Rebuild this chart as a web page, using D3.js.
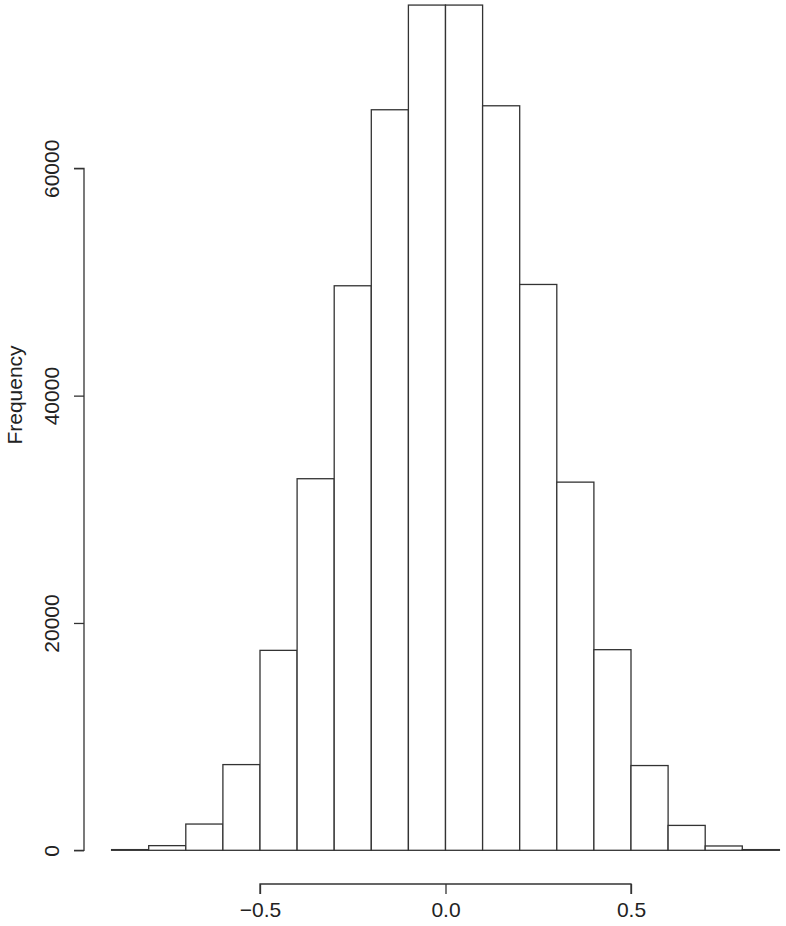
<!DOCTYPE html>
<html>
<head>
<meta charset="utf-8">
<script src="https://cdn.jsdelivr.net/npm/d3@7"></script>
<style>
  body { margin: 0; background: #fff; }
  svg text { font-family: "Liberation Sans", Arial, sans-serif; fill: #222; }
</style>
</head>
<body>
<div id="chart"></div>
<script>
// histogram breaks (bin edges) and counts
const breaks = [-0.9, -0.8, -0.7, -0.6, -0.5, -0.4, -0.3, -0.2, -0.1, 0.0,
                0.1, 0.2, 0.3, 0.4, 0.5, 0.6, 0.7, 0.8, 0.9];
const counts = [60, 410, 2310, 7540, 17590, 32690, 49665, 65150, 74360,
                74360, 65500, 49780, 32390, 17650, 7456, 2190, 380, 60];
const xTicks = [-0.5, 0.0, 0.5];
const yTicks = [0, 20000, 40000, 60000];
const yLabel = "Frequency";

let width = 786,
    height = 926;

let x = d3.scaleLinear().domain([-0.9, 0.9]).range([111.6, 779.4]);
let y = d3.scaleLinear().domain([0, 60000]).range([850.3, 168.3]);

let svg = d3.select("#chart").append("svg")
    .attr("width", width)
    .attr("height", height);

let bins = counts.map(function (c, i) {
    return {x0: breaks[i], x1: breaks[i + 1], count: c};
});

svg.selectAll(".bar")
    .data(bins)
    .enter()
    .append("rect")
    .attr("class", "bar")
    .attr("x", d => x(d.x0))
    .attr("width", d => x(d.x1) - x(d.x0))
    .attr("y", d => y(d.count))
    .attr("height", d => y(0) - y(d.count))
    .attr("fill", "#fff")
    .attr("stroke", "#333")
    .attr("stroke-width", 1.3);

// x axis, R style: line only between first and last tick, offset below
let xAxis = svg.append("g")
    .attr("transform", "translate(0,884)")
    .call(d3.axisBottom(x).tickValues(xTicks).tickSize(10).tickPadding(8)
        .tickFormat(d3.format(".1f")));
xAxis.select(".domain")
    .attr("d", "M" + x(xTicks[0]) + ",10V0H" + x(xTicks[xTicks.length - 1]) + "V10");
xAxis.selectAll("line").attr("stroke", "#333").attr("stroke-width", 1.3);
xAxis.select(".domain").attr("stroke", "#333").attr("stroke-width", 1.3);
xAxis.selectAll("text")
    .attr("font-size", 21)
    .text(d => d3.format(".1f")(d).replace("-", "\u2212"));

// y axis
let yAxis = svg.append("g")
    .attr("transform", "translate(84,0)")
    .call(d3.axisLeft(y).tickValues(yTicks).tickSize(10).tickFormat(d3.format("d")));
yAxis.select(".domain")
    .attr("d", "M-10," + y(yTicks[0]) + "H0V" + y(yTicks[yTicks.length - 1]) + "H-10")
    .attr("stroke", "#333").attr("stroke-width", 1.3);
yAxis.selectAll("line").attr("stroke", "#333").attr("stroke-width", 1.3);
yAxis.selectAll(".tick text")
    .attr("font-size", 21)
    .attr("text-anchor", "middle")
    .attr("dy", null)
    .attr("x", 0)
    .attr("transform", "translate(-31,0) rotate(-90)")
    .attr("dominant-baseline", "middle");

svg.append("text")
    .attr("transform", "translate(16,395) rotate(-90)")
    .attr("text-anchor", "middle")
    .attr("dominant-baseline", "middle")
    .attr("font-size", 21)
    .text(yLabel);
</script>
</body>
</html>
